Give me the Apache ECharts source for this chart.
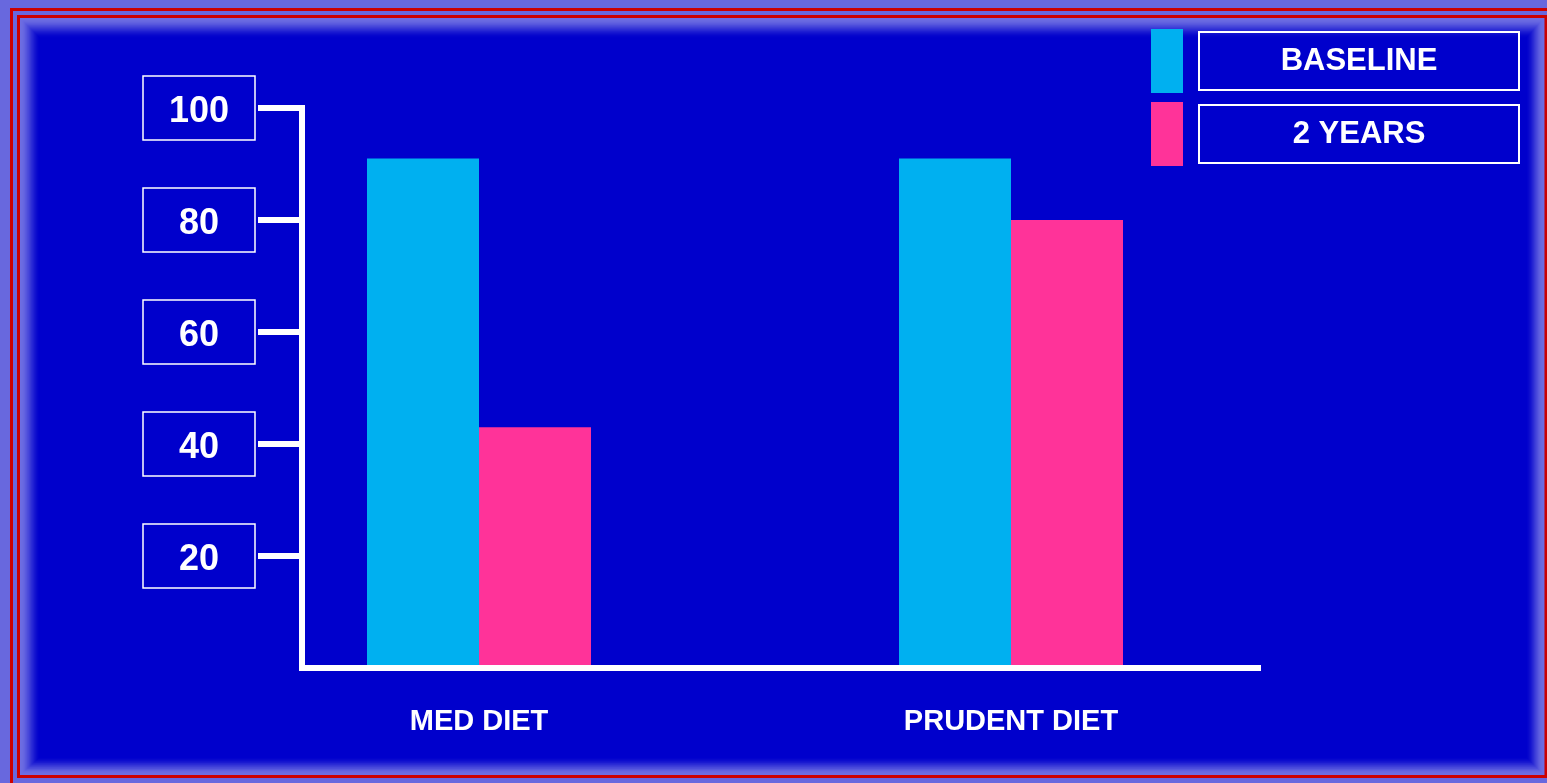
<!DOCTYPE html>
<html>
<head>
<meta charset="utf-8">
<script src="https://cdn.jsdelivr.net/npm/echarts@6/dist/echarts.min.js"></script>
<style>
html,body{margin:0;padding:0;background:#6868DE;}
#chart{width:1547px;height:783px;}
</style>
</head>
<body>
<div id="chart"></div>
<script>
const categories = ['MED DIET', 'PRUDENT DIET'];
const seriesNames = ['BASELINE', '2 YEARS'];
const baseline = [91, 91];
const twoYears = [43, 80];
const yTicks = [20, 40, 60, 80, 100];

const FONT = '"Liberation Sans", Arial, sans-serif';
const chart = echarts.init(document.getElementById('chart'));

// soft glow frame: stepped rectangles from lavender to blue
const frame = [
  { type: 'rect', z: -10, shape: { x: 11.5, y: 9.5, width: 1700, height: 900 },
    style: { fill: 'none', stroke: '#CC0000', lineWidth: 3 } },
  { type: 'rect', z: -10, shape: { x: 18.5, y: 16.5, width: 1527.5, height: 760 },
    style: { fill: 'none', stroke: '#CC0000', lineWidth: 3 } }
];
const N = 22;
const c0 = [110, 110, 226], c1 = [0, 0, 204];
for (let k = 0; k < N; k++) {
  const t = k / (N - 1);
  const e = t * t * (3 - 2 * t);
  const col = 'rgb(' + c0.map((v, i) => Math.round(v + (c1[i] - v) * e)).join(',') + ')';
  const l = 20 + 20 * t, tp = 18 + 20 * t, r = 1544 - 18 * t, b = 775 - 18 * t;
  frame.push({ type: 'rect', z: -9, silent: true,
    shape: { x: l, y: tp, width: r - l, height: b - tp },
    style: { fill: col } });
}

chart.setOption({
  backgroundColor: '#6868DE',
  animation: false,
  graphic: frame,
  legend: {
    left: 1151, top: 29, orient: 'vertical', padding: 0,
    itemWidth: 32, itemHeight: 64, itemGap: 9, icon: 'rect',
    data: seriesNames,
    formatter: n => '{s| }{b|' + n + '}',
    textStyle: {
      color: '#fff', fontFamily: FONT, fontWeight: 'bold', fontSize: 31,
      rich: {
        s: { width: 11 },
        b: { width: 320, height: 58, lineHeight: 58, align: 'center',
             borderColor: '#fff', borderWidth: 2, color: '#fff',
             fontFamily: FONT, fontWeight: 'bold', fontSize: 31 }
      }
    }
  },
  grid: [
    { left: 213, right: 270, top: 108, bottom: 115 },
    { left: 302, right: 289, top: 108, bottom: 115 }
  ],
  xAxis: [
    { type: 'category', gridIndex: 0, data: categories,
      axisLine: { show: false }, axisTick: { show: false },
      axisLabel: { color: '#fff', fontFamily: FONT, fontWeight: 'bold', fontSize: 29, margin: 39 } },
    { type: 'value', gridIndex: 1, min: 0, max: 1, z: 5,
      axisLine: { show: true, lineStyle: { color: '#fff', width: 6, cap: 'square' } },
      axisTick: { show: false }, axisLabel: { show: false }, splitLine: { show: false } }
  ],
  yAxis: [
    { type: 'value', gridIndex: 0, min: 0, max: 100, show: false, splitLine: { show: false } },
    { type: 'value', gridIndex: 1, min: 0, max: 100, interval: 20, z: 5,
      axisLine: { show: true, lineStyle: { color: '#fff', width: 6, cap: 'square' } },
      axisTick: { show: true, customValues: yTicks, length: 44, lineStyle: { color: '#fff', width: 6 } },
      axisLabel: {
        customValues: yTicks, margin: 47,
        formatter: v => '{b|' + v + '}',
        rich: {
          b: { width: 112, height: 56, lineHeight: 56, padding: [8, 0, 0, 0], align: 'center',
               borderColor: '#fff', borderWidth: 1.5, color: '#fff',
               fontFamily: FONT, fontWeight: 'bold', fontSize: 36 }
        }
      },
      splitLine: { show: false } }
  ],
  series: [
    { name: seriesNames[0], type: 'bar', xAxisIndex: 0, yAxisIndex: 0, data: baseline,
      barWidth: 112, barGap: '0%', itemStyle: { color: '#00B0F0' } },
    { name: seriesNames[1], type: 'bar', xAxisIndex: 0, yAxisIndex: 0, data: twoYears,
      barWidth: 112, barGap: '0%', itemStyle: { color: '#FF3399' } }
  ]
});
</script>
</body>
</html>
